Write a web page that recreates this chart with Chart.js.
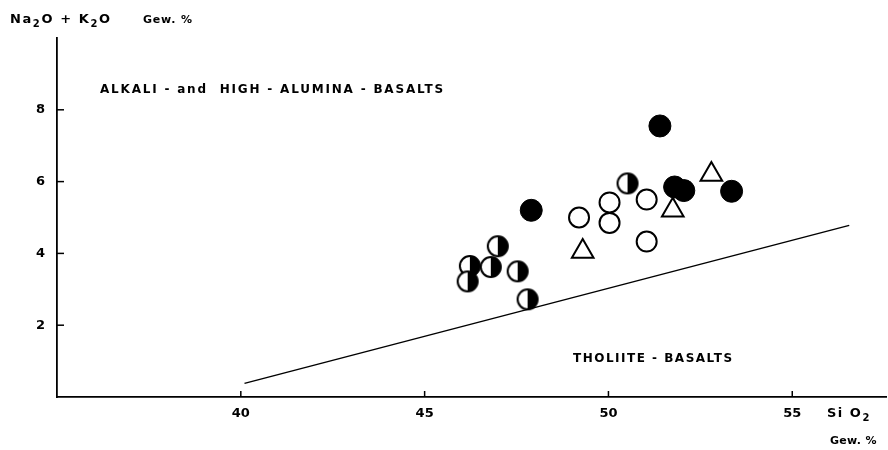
<!DOCTYPE html>
<html lang="en">
<head>
    <meta charset="UTF-8">
    <title>Alkali vs SiO2</title>
    <script src="https://cdn.jsdelivr.net/npm/chart.js"></script>
    <style>
        html, body { margin: 0; padding: 0; background: #fff; overflow: hidden; }
        #wrap { width: 888px; height: 450px; }
        #chart { display: block; }
    </style>
</head>
<body>
    <div id="wrap"><canvas id="chart" width="888" height="450"></canvas></div>
    <script>
        // data (SiO2 %, Na2O+K2O %)
        const filledX = [51.4, 47.9, 51.8, 52.05, 53.35];
        const filledY = [7.55, 5.2, 5.85, 5.75, 5.73];
        const halfX = [50.52, 46.99, 46.23, 46.8, 46.17, 47.53, 47.8];
        const halfY = [5.95, 4.2, 3.65, 3.62, 3.22, 3.5, 2.72];
        const openX = [49.2, 50.03, 50.03, 51.04, 51.04];
        const openY = [5.0, 5.42, 4.85, 5.5, 4.33];
        const triX = [52.8, 51.75, 49.3];
        const triY = [6.2, 5.2, 4.05];
        const lineX = [40.1, 56.55];
        const lineY = [0.38, 4.78];
        const xTickVals = [40, 45, 50, 55];
        const yTickVals = [2, 4, 6, 8];

        const pts = (xs, ys) => xs.map((x, i) => ({ x: x, y: ys[i] }));

        // half filled circle marker (right half black)
        const half = document.createElement('canvas');
        half.width = 24; half.height = 24;
        const hc = half.getContext('2d');
        hc.fillStyle = '#fff';
        hc.beginPath(); hc.arc(12, 12, 10, 0, Math.PI * 2); hc.fill();
        hc.fillStyle = '#000';
        hc.beginPath(); hc.arc(12, 12, 10, -Math.PI / 2, Math.PI / 2); hc.closePath(); hc.fill();
        hc.lineWidth = 2; hc.strokeStyle = '#000';
        hc.beginPath(); hc.arc(12, 12, 10, 0, Math.PI * 2); hc.stroke();

        const FONT = 'bold 12px "DejaVu Sans"';
        const SUB = 'bold 10px "DejaVu Sans"';

        const labels = {
            id: 'labels',
            afterDraw(chart) {
                const ctx = chart.ctx;
                const xs = chart.scales.x, ys = chart.scales.y;
                ctx.save();
                ctx.fillStyle = '#000';
                ctx.strokeStyle = '#000';
                ctx.lineWidth = 1.5;
                // inside tick marks
                xTickVals.forEach(v => {
                    const px = xs.getPixelForValue(v);
                    ctx.beginPath(); ctx.moveTo(px, ys.bottom); ctx.lineTo(px, ys.bottom - 6); ctx.stroke();
                });
                yTickVals.forEach(v => {
                    const py = ys.getPixelForValue(v);
                    ctx.beginPath(); ctx.moveTo(xs.left, py); ctx.lineTo(xs.left + 7, py); ctx.stroke();
                });
                ctx.textBaseline = 'alphabetic';
                ctx.letterSpacing = '1.8px';
                ctx.font = FONT;
                ctx.fillText('ALKALI - and  HIGH - ALUMINA - BASALTS', 100, 93);
                ctx.letterSpacing = '1.5px';
                ctx.fillText('THOLIITE - BASALTS', 573, 362);
                // y axis title with subscripts
                ctx.letterSpacing = '1.6px';
                let x = 10;
                const part = (t, dy, f) => {
                    ctx.font = f || 'bold 13px "DejaVu Sans"';
                    ctx.fillText(t, x, 23 + dy);
                    x += ctx.measureText(t).width;
                };
                part('Na', 0); part('2', 4, SUB); part('O + K', 0);
                part('2', 4, SUB); part('O', 0);
                ctx.letterSpacing = '0.8px';
                ctx.font = 'bold 11px "DejaVu Sans"';
                ctx.fillText('Gew. %', 143, 23);
                // x axis title
                ctx.letterSpacing = '1.5px';
                x = 827;
                const part2 = (t, dy, f) => {
                    ctx.font = f || 'bold 13px "DejaVu Sans"';
                    ctx.fillText(t, x, 417 + dy);
                    x += ctx.measureText(t).width;
                };
                part2('Si O', 0); part2('2', 4, SUB);
                ctx.letterSpacing = '0.3px';
                ctx.font = 'bold 11px "DejaVu Sans"';
                ctx.fillText('Gew. %', 830, 444);
                ctx.restore();
            }
        };

        new Chart(document.getElementById('chart'), {
            type: 'scatter',
            data: {
                datasets: [
                    {
                        type: 'line', data: pts(lineX, lineY), borderColor: '#000', borderWidth: 1.5,
                        pointRadius: 0, fill: false
                    },
                    {
                        data: pts(openX, openY), pointStyle: 'circle', pointRadius: 10,
                        backgroundColor: '#fff', borderColor: '#000', borderWidth: 2
                    },
                    {
                        data: pts(triX, triY), pointStyle: 'triangle', pointRadius: 12.5,
                        backgroundColor: '#fff', borderColor: '#000', borderWidth: 2
                    },
                    {
                        data: pts(halfX, halfY), pointStyle: half, pointRadius: 12
                    },
                    {
                        data: pts(filledX, filledY), pointStyle: 'circle', pointRadius: 11,
                        backgroundColor: '#000', borderColor: '#000', borderWidth: 1
                    }
                ]
            },
            options: {
                responsive: false,
                animation: false,
                layout: { autoPadding: false, padding: { top: 38, right: 2, left: 0, bottom: 0 } },
                plugins: { legend: { display: false }, tooltip: { enabled: false } },
                scales: {
                    x: {
                        type: 'linear', min: 35, max: 57.55,
                        afterBuildTicks: s => { s.ticks = xTickVals.map(v => ({ value: v })); },
                        afterFit: s => { s.height = 53; s.paddingLeft = 0; s.paddingRight = 0; },
                        grid: { display: false, drawTicks: false },
                        border: { display: true, color: '#000', width: 1.8 },
                        ticks: { color: '#000', padding: 9, font: { family: 'DejaVu Sans', size: 13, weight: 'bold' } }
                    },
                    y: {
                        type: 'linear', min: 0, max: 10,
                        afterBuildTicks: s => { s.ticks = yTickVals.map(v => ({ value: v })); },
                        afterFit: s => { s.width = 57; s.paddingTop = 0; s.paddingBottom = 0; },
                        grid: { display: false, drawTicks: false },
                        border: { display: true, color: '#000', width: 1.8 },
                        ticks: { color: '#000', padding: 12, font: { family: 'DejaVu Sans', size: 13, weight: 'bold' } }
                    }
                }
            },
            plugins: [labels]
        });
    </script>
</body>
</html>
